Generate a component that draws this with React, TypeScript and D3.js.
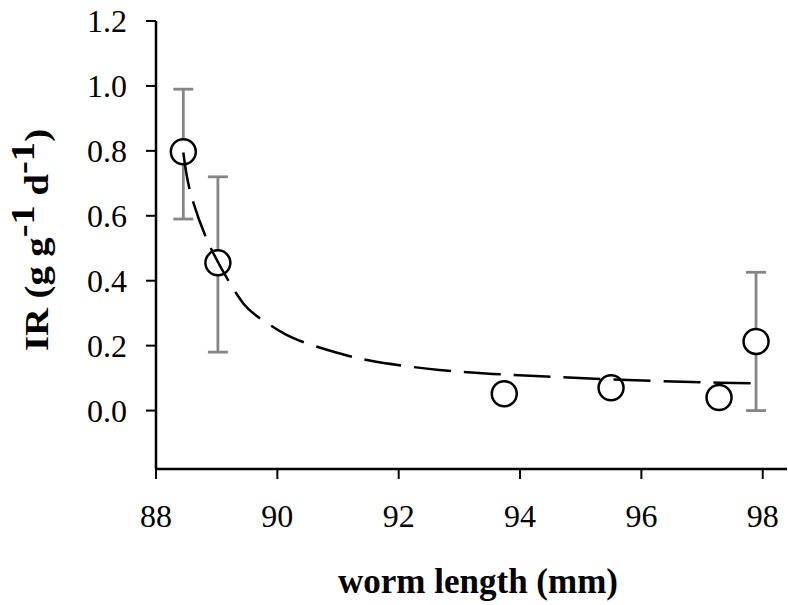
import React from "react";
import * as d3 from "d3";

const lengths = [88.45, 89.02, 93.74, 95.5, 97.28, 97.89];
const irValues = [0.797, 0.455, 0.052, 0.07, 0.04, 0.213];
const errHigh = [0.99, 0.72, null, null, null, 0.426];
const errLow = [0.59, 0.18, null, null, null, 0.0];

const fitX = [88.45, 88.56, 88.86, 89.33, 89.52, 90.12, 90.37, 90.97, 91.52, 92.67, 93.55, 94.43, 95.53, 96.98, 97.83];
const fitY = [0.795, 0.677, 0.518, 0.359, 0.313, 0.236, 0.215, 0.179, 0.154, 0.125, 0.113, 0.105, 0.096, 0.087, 0.084];

const xTicks = [88, 90, 92, 94, 96, 98];
const yTicks = [0.0, 0.2, 0.4, 0.6, 0.8, 1.0, 1.2];

const W = 788;
const H = 605;

export default function App() {
  const x = d3.scaleLinear().domain([88, 98.4]).range([156, 787]);
  const y = d3.scaleLinear().domain([-0.18, 1.2]).range([469, 21]);

  const fitPts: [number, number][] = fitX.map((v, i) => [x(v), y(fitY[i])]);
  const line = d3.line().curve(d3.curveCatmullRom.alpha(0.5))(fitPts) || "";

  const serif = "'Liberation Serif', 'Times New Roman', serif";

  return (
    <svg width={W} height={H} style={{ position: "absolute", left: 0, top: 0, background: "#fff" }}>
      <rect x={0} y={0} width={W} height={H} fill="#fff" />
      {/* axes */}
      <line x1={x(88)} x2={x(88)} y1={y(1.2)} y2={y(-0.18)} stroke="#000" strokeWidth={2.5} />
      <line x1={x(88)} x2={x(98.4)} y1={y(-0.18)} y2={y(-0.18)} stroke="#000" strokeWidth={2.5} />
      {yTicks.map((t) => (
        <g key={"y" + t}>
          <line x1={x(88) - 10} x2={x(88)} y1={y(t)} y2={y(t)} stroke="#000" strokeWidth={2} />
          <text x={127} y={y(t)} dy="0.35em" textAnchor="end" fontFamily={serif} fontSize={32} fill="#000">
            {t.toFixed(1)}
          </text>
        </g>
      ))}
      {xTicks.map((t) => (
        <g key={"x" + t}>
          <line x1={x(t)} x2={x(t)} y1={y(-0.18)} y2={y(-0.18) + 10} stroke="#000" strokeWidth={2} />
          <text x={x(t)} y={527} textAnchor="middle" fontFamily={serif} fontSize={32} fill="#000">
            {t}
          </text>
        </g>
      ))}
      {/* error bars */}
      {lengths.map((v, i) =>
        errHigh[i] !== null ? (
          <g key={"e" + i} stroke="#858585" strokeWidth={2.8}>
            <line x1={x(v)} x2={x(v)} y1={y(errHigh[i] as number)} y2={y(errLow[i] as number)} />
            <line x1={x(v) - 10} x2={x(v) + 10} y1={y(errHigh[i] as number)} y2={y(errHigh[i] as number)} />
            <line x1={x(v) - 10} x2={x(v) + 10} y1={y(errLow[i] as number)} y2={y(errLow[i] as number)} />
          </g>
        ) : null
      )}
      {/* points */}
      {lengths.map((v, i) => (
        <circle key={"p" + i} cx={x(v)} cy={y(irValues[i])} r={12.5} fill="#fff" stroke="#000" strokeWidth={2.5} />
      ))}
      {/* fitted curve */}
      <path d={line} fill="none" stroke="#000" strokeWidth={2.5} strokeDasharray="37,13" />
      {/* axis titles */}
      <text x={478} y={593} textAnchor="middle" fontFamily={serif} fontWeight="bold" fontSize={35} fill="#000">
        worm length (mm)
      </text>
      <text
        transform="translate(48,240) rotate(-90) scale(1.17,1)"
        textAnchor="middle"
        fontFamily={serif}
        fontWeight="bold"
        fontSize={33}
        fill="#000"
      >
        IR (g g<tspan dy={-14}>-1</tspan>
        <tspan dy={14}> d</tspan>
        <tspan dy={-14}>-1</tspan>
        <tspan dy={14}>)</tspan>
      </text>
    </svg>
  );
}
